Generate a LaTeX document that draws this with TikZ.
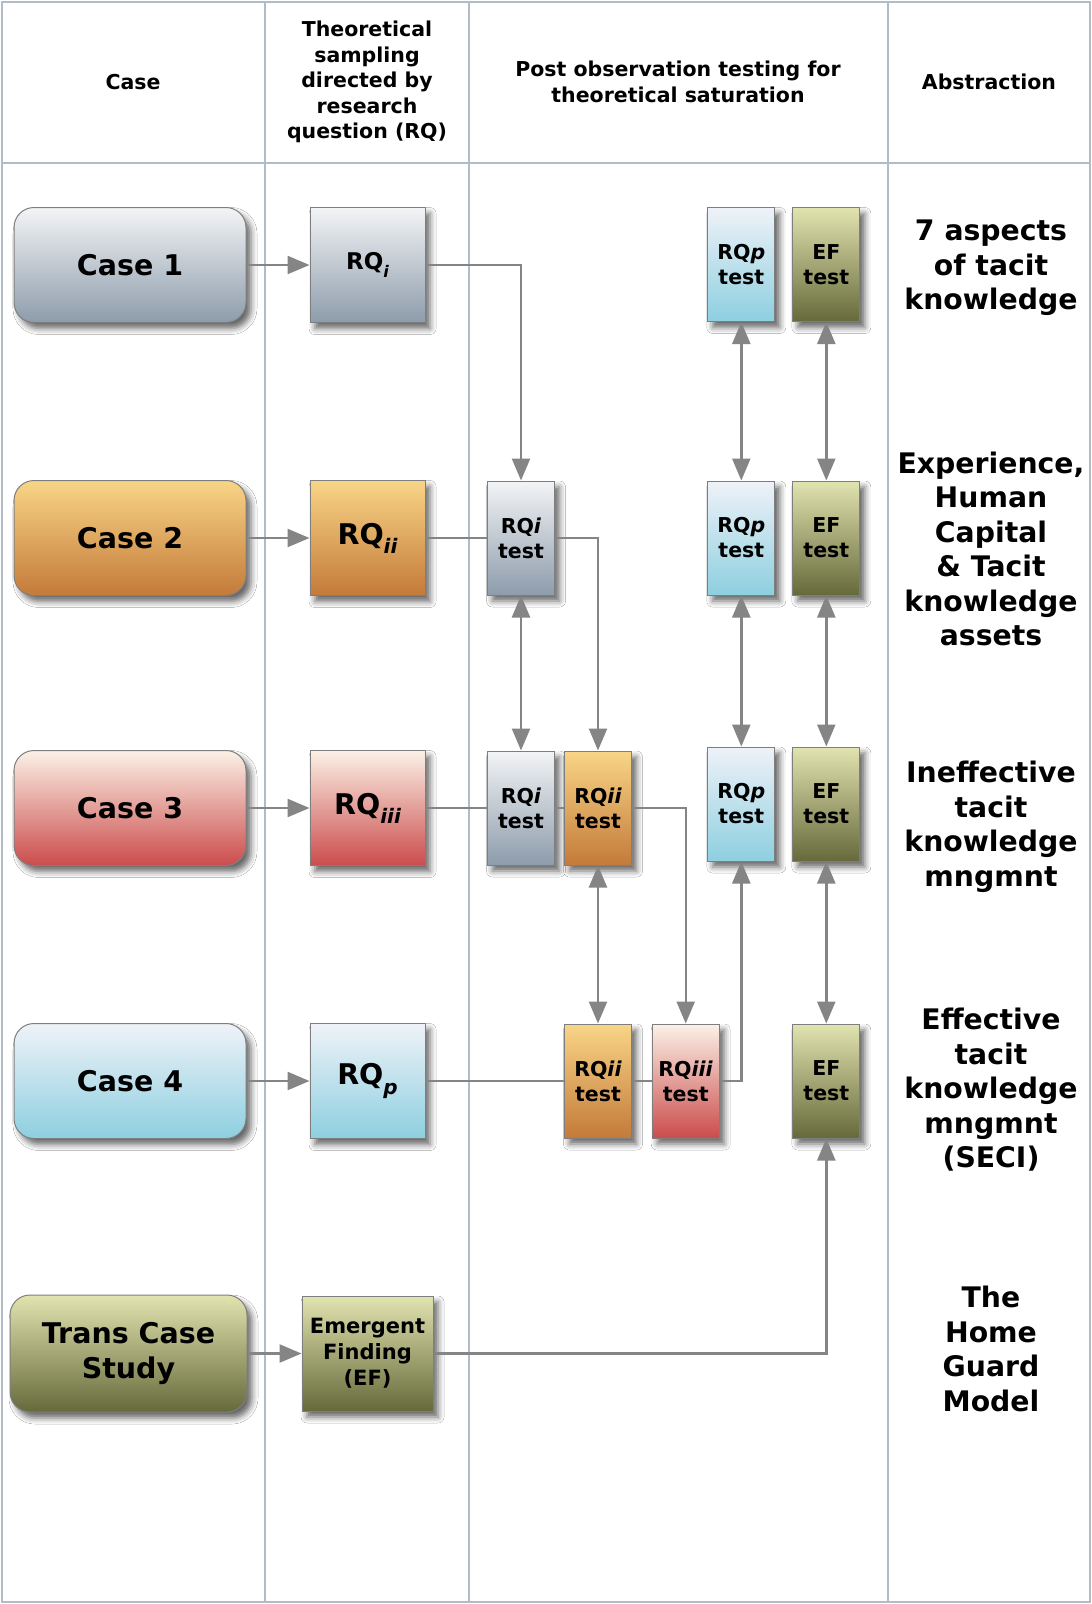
\documentclass[tikz,border=0pt]{standalone}
\usepackage{fontspec}
\setmainfont{DejaVu Sans}
\usetikzlibrary{arrows.meta,shadows.blur}

% box fills: top and bottom of each vertical gradient
\definecolor{grayTop}{HTML}{F3F4F6}
\definecolor{grayBot}{HTML}{8D9CAB}
\definecolor{orgTop}{HTML}{F8D587}
\definecolor{orgBot}{HTML}{C47A3A}
\definecolor{redTop}{HTML}{FBF1E6}
\definecolor{redBot}{HTML}{CB4C4C}
\definecolor{bluTop}{HTML}{EFF2F8}
\definecolor{bluBot}{HTML}{8DCFE0}
\definecolor{olvTop}{HTML}{E1E4AF}
\definecolor{olvBot}{HTML}{66693A}
\definecolor{edgegray}{HTML}{7E7E7E}
\definecolor{linkgray}{HTML}{858585}
\definecolor{gridgray}{HTML}{B2BCC6}

\newcommand{\rqsub}[2]{\raisebox{-0.32em}{\fontsize{#1}{#1}\selectfont\itshape #2}}

\begin{document}
\begin{tikzpicture}[x=1pt,y=-1pt,
  >={Triangle[length=22pt,width=18pt]},
  shadowed/.style={blur shadow={shadow xshift=5pt,shadow yshift=-6pt,
      shadow blur radius=6pt,shadow opacity=60}},
  boxbase/.style={draw=edgegray,line width=1pt,align=center,inner sep=0pt,
      shadowed,font=\bfseries},
  casebox/.style={boxbase,rounded corners=20pt,minimum width=232pt,
      minimum height=115pt,font=\fontsize{28.5}{35}\selectfont\bfseries},
  rqbox/.style={boxbase,minimum width=115pt,minimum height=115pt,
      font=\fontsize{28.5}{34}\selectfont\bfseries},
  testbox/.style={boxbase,minimum width=67pt,minimum height=114pt,
      font=\fontsize{20.5}{25}\selectfont\bfseries},
  gray/.style={top color=grayTop,bottom color=grayBot},
  orange/.style={top color=orgTop,bottom color=orgBot},
  red/.style={top color=redTop,bottom color=redBot},
  blue/.style={top color=bluTop,bottom color=bluBot},
  olive/.style={top color=olvTop,bottom color=olvBot},
  headtext/.style={align=center,font=\fontsize{20.5}{25.6}\selectfont\bfseries},
  abstext/.style={align=center,font=\fontsize{28.3}{34.5}\selectfont\bfseries},
  link/.style={draw=linkgray,line width=2.4pt,fill=none},
  gridline/.style={draw=gridgray,line width=2pt}]

\useasboundingbox (0,0) rectangle (1092,1604);
\fill[white] (0,0) rectangle (1092,1604);

% table frame
\draw[gridline] (2,2) rectangle (1090,1602);
\draw[gridline] (2,163) -- (1090,163);
\foreach \gx in {265,469,888} \draw[gridline] (\gx,2) -- (\gx,1602);

% column headings
\node[headtext] (hcase) at (133,82) {Case};
\node[headtext] (hsamp) at (367,82) {Theoretical\\sampling\\directed by\\research\\question (RQ)};
\node[headtext] (htest) at (678,82) {Post observation testing for\\theoretical saturation};
\node[headtext] (habs)  at (989,82) {Abstraction};

% cases
\node[casebox,gray]   (case1) at (130,265)  {Case 1};
\node[casebox,orange] (case2) at (130,538)  {Case 2};
\node[casebox,red]    (case3) at (130,808)  {Case 3};
\node[casebox,blue]   (case4) at (130,1081) {Case 4};
\node[casebox,olive,minimum width=237pt,minimum height=117pt] (trans) at (128.5,1353.5) {Trans Case\\Study};

% sampling questions
\node[rqbox,gray,font=\fontsize{23}{25}\selectfont\bfseries] (rqi) at (367.5,265) {RQ\rqsub{16}{i}};
\node[rqbox,orange] (rqii)  at (367.5,538)  {RQ\rqsub{20}{ii}};
\node[rqbox,red]    (rqiii) at (367.5,808)  {RQ\rqsub{20}{iii}};
\node[rqbox,blue]   (rqp)   at (367.5,1081) {RQ\rqsub{20}{p}};
\node[rqbox,olive,minimum width=131pt,font=\fontsize{21}{26}\selectfont\bfseries] (ef) at (367.5,1353.5) {Emergent\\Finding\\(EF)};

% saturation tests
\node[testbox,blue]  (rqpA) at (741.3,264.5) {RQ\textit{p}\\test};
\node[testbox,olive] (efA)  at (826.3,264.5) {EF\\test};

\node[testbox,gray]  (rqiB) at (521,538)   {RQ\textit{i}\\test};
\node[testbox,blue]  (rqpB) at (741.3,538) {RQ\textit{p}\\test};
\node[testbox,olive] (efB)  at (826.3,538) {EF\\test};

\node[testbox,gray]   (rqiC)  at (521,808)   {RQ\textit{i}\\test};
\node[testbox,orange] (rqiiC) at (598,808)   {RQ\textit{ii}\\test};
\node[testbox,blue]   (rqpC)  at (741.3,804) {RQ\textit{p}\\test};
\node[testbox,olive]  (efC)   at (826.3,804) {EF\\test};

\node[testbox,orange] (rqiiD)  at (598,1081)   {RQ\textit{ii}\\test};
\node[testbox,red]    (rqiiiD) at (685.7,1081) {RQ\textit{iii}\\test};
\node[testbox,olive]  (efD)    at (826.3,1081) {EF\\test};

% abstractions
\node[abstext] (abs1) at (991,268)    {7 aspects\\of tacit\\knowledge};
\node[abstext] (abs2) at (991,549)    {Experience,\\Human\\Capital\\\& Tacit\\knowledge\\assets};
\node[abstext] (abs3) at (991,827)    {Ineffective\\tacit\\knowledge\\mngmnt};
\node[abstext] (abs4) at (991,1090)   {Effective\\tacit\\knowledge\\mngmnt\\(SECI)};
\node[abstext] (abs5) at (991,1349)   {The\\Home\\Guard\\Model};

% case to question
\draw[link,->] (case1) -- (rqi);
\draw[link,->] (case2) -- (rqii);
\draw[link,->] (case3) -- (rqiii);
\draw[link,->] (case4) -- (rqp);
\draw[link,->] (trans) -- (ef);

% question to tests
\draw[link,->] (rqi.east) -| (rqiB.north);
\draw[link] (rqii.east) -- (rqiB.west);
\draw[link,->] (rqiB.east) -| (rqiiC.north);
\draw[link] (rqiii.east) -- (rqiC.west);
\draw[link] (rqiC.east) -- (rqiiC.west);
\draw[link,->] (rqiiC.east) -| (rqiiiD.north);
\draw[link] (rqp.east) -- (rqiiD.west);
\draw[link] (rqiiD.east) -- (rqiiiD.west);
\draw[link,->] (rqiiiD.east) -| (rqpC.south);
\draw[link,->] (ef.east) -| (efD.south);

% re-tests between rows
\draw[link,<->] (rqpA) -- (rqpB);
\draw[link,<->] (efA) -- (efB);
\draw[link,<->] (rqiB) -- (rqiC);
\draw[link,<->] (rqpB) -- (rqpC);
\draw[link,<->] (efB) -- (efC);
\draw[link,<->] (rqiiC) -- (rqiiD);
\draw[link,<->] (efC) -- (efD);
\end{tikzpicture}
\end{document}
